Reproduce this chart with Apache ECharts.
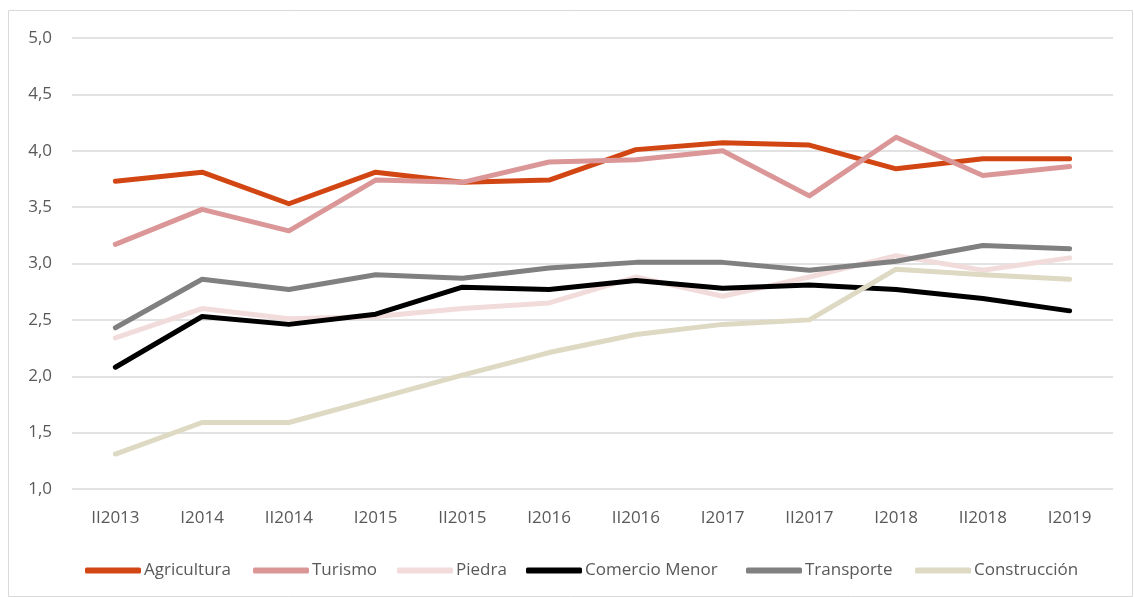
<!DOCTYPE html>
<html><head><meta charset="utf-8">
<script src="https://cdn.jsdelivr.net/npm/echarts@6/dist/echarts.min.js"></script>
<style>html,body{margin:0;padding:0;background:#fff}#c{width:1134px;height:597px}</style>
</head><body><div id="c"></div>
<script>
const categories = ['II2013','I2014','II2014','I2015','II2015','I2016','II2016','I2017','II2017','I2018','II2018','I2019'];
const agricultura = [3.73,3.81,3.53,3.81,3.72,3.74,4.01,4.07,4.05,3.84,3.93,3.93];
const turismo = [3.17,3.48,3.29,3.74,3.72,3.90,3.92,4.00,3.60,4.12,3.78,3.86];
const piedra = [2.34,2.60,2.51,2.53,2.60,2.65,2.88,2.71,2.88,3.07,2.94,3.05];
const comercioMenor = [2.08,2.53,2.46,2.55,2.79,2.77,2.85,2.78,2.81,2.77,2.69,2.58];
const transporte = [2.43,2.86,2.77,2.90,2.87,2.96,3.01,3.01,2.94,3.02,3.16,3.13];
const construccion = [1.31,1.59,1.59,1.80,2.01,2.21,2.37,2.46,2.50,2.95,2.90,2.86];
const seriesNames = ['Agricultura','Turismo','Piedra','Comercio Menor','Transporte','Construcción'];
const seriesData = [agricultura, turismo, piedra, comercioMenor, transporte, construccion];
const colors = ['#d24614','#db9697','#f2dcdb','#000000','#808080','#ddd9c3'];
const legendLefts = [80, 248, 392, 521, 741, 910];

const chart = echarts.init(document.getElementById('c'));
const font = "'Open Sans', 'DejaVu Sans', sans-serif";
chart.setOption({
  animation: false,
  backgroundColor: '#fff',
  graphic: [{type:'rect', shape:{x:8.5,y:10.5,width:1124,height:586}, style:{fill:'none',stroke:'#d9d9d9',lineWidth:1}, silent:true}],
  grid: {left:72, right:21, top:38, bottom:108},
  xAxis: {
    type:'category', data: categories, boundaryGap:true,
    axisLine:{show:false}, axisTick:{show:false},
    axisLabel:{color:'#595959', fontSize:17, fontFamily:font, margin:21}
  },
  yAxis: {
    type:'value', min:1, max:5, interval:0.5,
    axisLine:{show:false}, axisTick:{show:false},
    splitLine:{lineStyle:{color:'#d9d9d9', width:1.5}},
    axisLabel:{color:'#595959', fontSize:17, fontFamily:font, margin:20,
      formatter: v => v.toFixed(1).replace('.', ',')}
  },
  legend: seriesNames.map((n,i)=>({
    data:[{name:n, icon:'roundRect', itemStyle:{color:colors[i]}}],
    left: legendLefts[i], top: 557, itemWidth:56, itemHeight:6, itemGap:3,
    textStyle:{color:'#595959', fontSize:17, fontFamily:font, padding:[0,0,0,-2]}
  })),
  series: seriesNames.map((n,i)=>({
    name:n, type:'line', data: seriesData[i], symbol:'none',
    lineStyle:{color:colors[i], width:5, cap:'round', join:'round'},
    itemStyle:{color:colors[i]}
  }))
});
</script></body></html>
